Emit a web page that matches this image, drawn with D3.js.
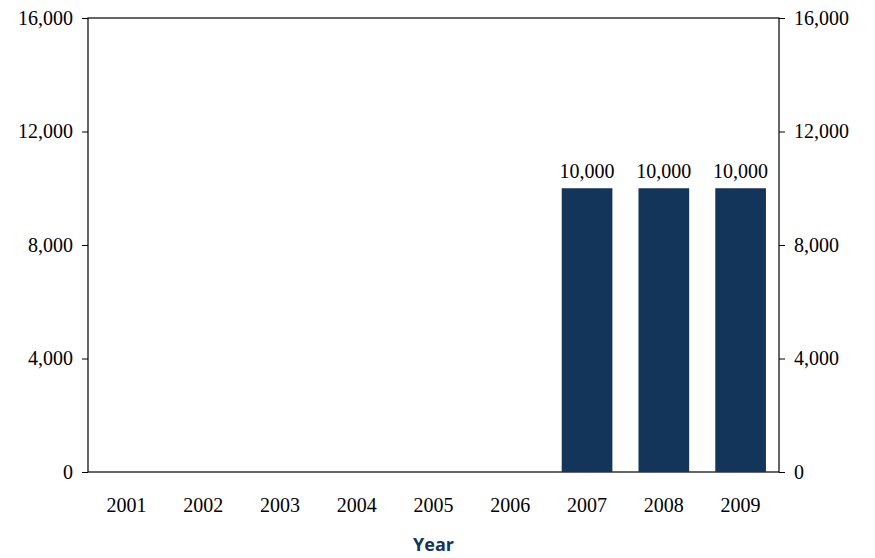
<!DOCTYPE html>
<html><head><meta charset="utf-8">
<script src="https://cdn.jsdelivr.net/npm/d3@7"></script>
<style>body{margin:0;background:#fff}svg{display:block}</style>
</head><body>
<script>
const years = ["2001","2002","2003","2004","2005","2006","2007","2008","2009"];
const values = [0,0,0,0,0,0,10000,10000,10000];
const yTicks = [0,4000,8000,12000,16000];

const W=875,H=558, m={l:88,r:96,t:18,b:86};
const svg=d3.select("body").append("svg").attr("width",W).attr("height",H);
const x=d3.scaleBand().domain(years).range([m.l,W-m.r]).paddingInner(0.34).paddingOuter(0.17);
const y=d3.scaleLinear().domain([0,16000]).range([H-m.b,m.t]);
const font="'Liberation Serif', serif";
const fs="20px";

svg.append("rect").attr("x",m.l).attr("y",m.t).attr("width",W-m.r-m.l).attr("height",H-m.b-m.t)
  .attr("fill","none").attr("stroke","#000").attr("stroke-width",1.2);

svg.selectAll("rect.bar").data(years.map((c,i)=>({c,v:values[i]})).filter(d=>d.v>0)).join("rect")
  .attr("class","bar").attr("x",d=>x(d.c)).attr("width",x.bandwidth())
  .attr("y",d=>y(d.v)).attr("height",d=>y(0)-y(d.v)).attr("fill","#14355a");

svg.selectAll("text.lbl").data(years.map((c,i)=>({c,v:values[i]})).filter(d=>d.v>0)).join("text")
  .attr("class","lbl").attr("x",d=>x(d.c)+x.bandwidth()/2).attr("y",d=>y(d.v)-10)
  .attr("text-anchor","middle").style("font-family",font).style("font-size",fs).text(d=>d3.format(",")(d.v));

const fmt=d3.format(",");
const ax=d3.axisLeft(y).tickValues(yTicks).tickFormat(fmt).tickSize(6).tickPadding(9);
const gl=svg.append("g").attr("transform",`translate(${m.l},0)`).call(ax);
const ar=d3.axisRight(y).tickValues(yTicks).tickFormat(fmt).tickSize(6).tickPadding(9);
const gr=svg.append("g").attr("transform",`translate(${W-m.r},0)`).call(ar);
[gl,gr].forEach(g=>{g.select(".domain").remove();g.selectAll("text").style("font-family",font).style("font-size",fs).attr("fill","#000");g.selectAll("line").attr("stroke","#000");});

const axb=d3.axisBottom(x).tickSize(0).tickPadding(26);
const gb=svg.append("g").attr("transform",`translate(0,${H-m.b})`).call(axb);
gb.select(".domain").remove();
gb.selectAll("text").style("font-family",font).style("font-size",fs).attr("fill","#000");

svg.append("text").attr("x",(m.l+W-m.r)/2).attr("y",551).attr("text-anchor","middle")
  .style("font-family","'Open Sans', sans-serif").style("font-weight","bold").style("font-size","18px")
  .attr("fill","#14355a").text("Year");
</script>
</body></html>
